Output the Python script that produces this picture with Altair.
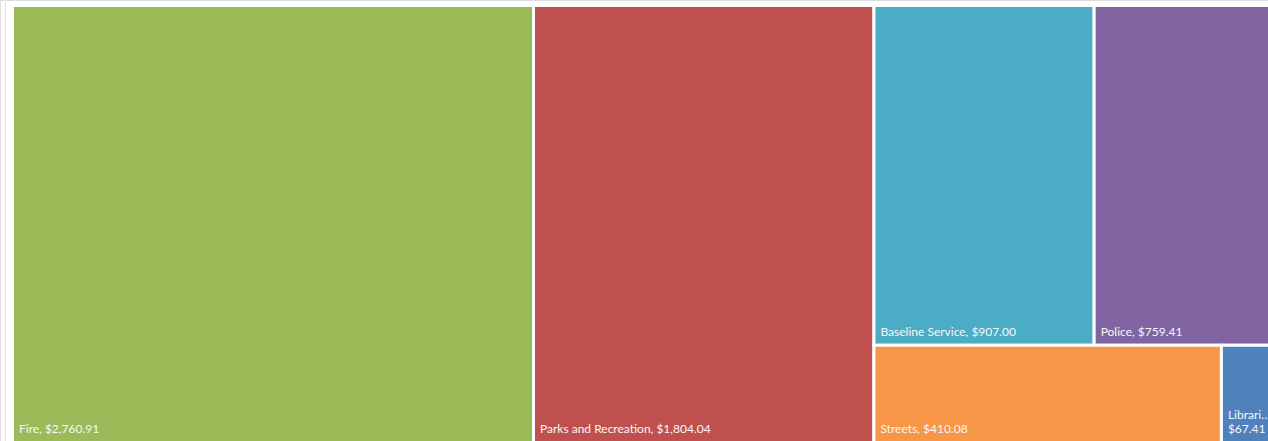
import altair as alt
import pandas as pd

# ---- data ----
names = ["Fire", "Parks and Recreation", "Baseline Service", "Police", "Streets", "Libraries"]
values = [2760.91, 1804.04, 907.00, 759.41, 410.08, 67.41]
line1 = ["Fire, $2,760.91", "Parks and Recreation, $1,804.04", "Baseline Service, $907.00",
         "Police, $759.41", "Streets, $410.08", "Librari\u2026"]
line2 = ["", "", "", "", "", "$67.41"]
colors = ["#9BBB59", "#C0504D", "#4BACC6", "#8064A2", "#F79646", "#4F81BD"]

# ---- layout extent (pixels) ----
X0, Y0, W, H = 12.5, 5.5, 1266.0, 437.0
LINE_H = 14


def worst(row, side):
    s = sum(a for _, a in row)
    return max(max(side * side * a / (s * s), (s * s) / (side * side * a)) for _, a in row)


def squarify(vals, x, y, dx, dy):
    total = sum(vals)
    items = [(i, v * dx * dy / total) for i, v in enumerate(vals)]
    out = {}
    while items:
        side = min(dx, dy)
        row = [items[0]]
        k = 1
        while k < len(items) and worst(row + [items[k]], side) <= worst(row, side):
            row.append(items[k])
            k += 1
        s = sum(a for _, a in row)
        if dx >= dy:
            w = s / dy
            cy = y
            for i, a in row:
                h = a / w
                out[i] = (x, x + w, cy, cy + h)
                cy += h
            x += w
            dx -= w
        else:
            h = s / dx
            cx = x
            for i, a in row:
                w = a / h
                out[i] = (cx, cx + w, y, y + h)
                cx += w
            y += h
            dy -= h
        items = items[k:]
    return [out[i] for i in range(len(vals))]


rects = squarify(values, X0, Y0, W, H)
df = pd.DataFrame({
    "name": names,
    "value": values,
    "line1": line1,
    "line2": line2,
    "x": [r[0] for r in rects],
    "x2": [r[1] for r in rects],
    "y": [r[2] for r in rects],
    "y2": [r[3] for r in rects],
})

xs = alt.Scale(domain=[0, 1268], nice=False, zero=False)
ys = alt.Scale(domain=[0, 441], nice=False, zero=False, reverse=True)

rect = alt.Chart(df).mark_rect(stroke="white", strokeWidth=3).encode(
    x=alt.X("x:Q", scale=xs, axis=None),
    x2="x2:Q",
    y=alt.Y("y:Q", scale=ys, axis=None),
    y2="y2:Q",
    color=alt.Color("name:N", scale=alt.Scale(domain=names, range=colors), legend=None),
    tooltip=["name:N", "value:Q"],
)

text_props = dict(align="left", baseline="alphabetic", dx=6.5, dy=-9.5, font="Lato",
                  fontSize=12, color="#F7F7F7")

text1 = alt.Chart(df).transform_calculate(
    ly=f"datum.line2 ? datum.y2 - {LINE_H} : datum.y2"
).mark_text(**text_props).encode(
    x=alt.X("x:Q", scale=xs, axis=None),
    y=alt.Y("ly:Q", scale=ys, axis=None),
    text="line1:N",
)

text2 = alt.Chart(df).transform_filter("datum.line2 != ''").mark_text(**text_props).encode(
    x=alt.X("x:Q", scale=xs, axis=None),
    y=alt.Y("y2:Q", scale=ys, axis=None),
    text="line2:N",
)

edge = alt.Chart(pd.DataFrame({"v": [0]})).mark_rule(color="#E4E4E4", strokeWidth=1).encode(
    x=alt.value(5.5), y=alt.value(0), y2=alt.value(441)
)

chart = alt.layer(edge, rect, text1, text2).properties(
    width=1268, height=441, padding=0, autosize="none"
).configure_view(stroke=None).configure(background="white")

chart.save("out.html", embed_options={"renderer": "svg", "actions": False})
